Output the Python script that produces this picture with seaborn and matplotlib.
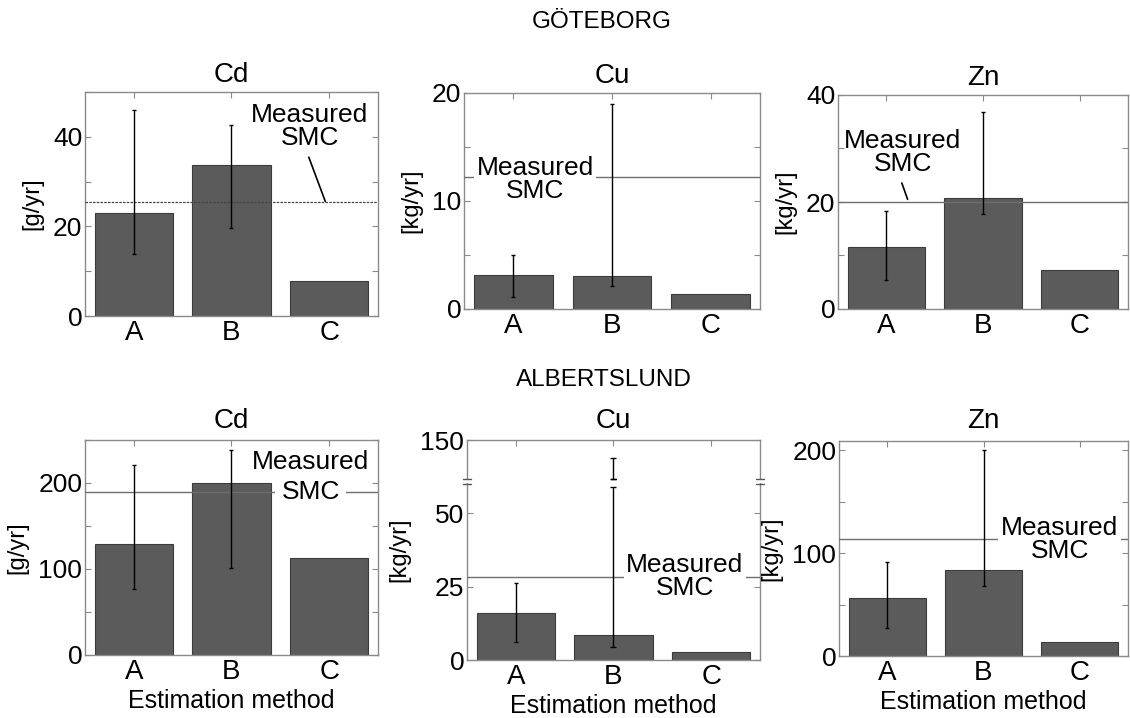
import numpy as np
import pandas as pd
import seaborn as sns
import matplotlib.pyplot as plt
import matplotlib.patches as mpatches

# Estimation methods (x categories)
methods = ["A", "B", "C"]

# GÖTEBORG: bar heights, error-bar low/high ends (methods A and B), measured SMC
gbg_cd = [23.0, 33.8, 7.8]
gbg_cd_lo = [13.8, 19.6]
gbg_cd_hi = [46.0, 42.6]
gbg_cd_smc = 25.4

gbg_cu = [3.15, 3.1, 1.4]
gbg_cu_lo = [1.1, 2.1]
gbg_cu_hi = [5.0, 19.0]
gbg_cu_smc = 12.25

gbg_zn = [11.5, 20.8, 7.2]
gbg_zn_lo = [5.4, 17.8]
gbg_zn_hi = [18.4, 36.9]
gbg_zn_smc = 20.0

# ALBERTSLUND
alb_cd = [129.0, 200.0, 112.6]
alb_cd_lo = [77.0, 101.0]
alb_cd_hi = [221.0, 238.0]
alb_cd_smc = 189.5

alb_cu = [15.9, 8.5, 2.8]
alb_cu_lo = [6.2, 4.3]
alb_cu_hi = [26.1, 112.0]
alb_cu_smc = 28.3

alb_zn = [56.6, 83.6, 13.7]
alb_zn_lo = [27.3, 68.0]
alb_zn_hi = [91.7, 200.0]
alb_zn_smc = 113.6

# broken y axis of Albertslund Cu: gap between these values
cu_break = (60, 70)

sns.set_theme(style="white")
plt.rcParams["font.family"] = ["Liberation Sans", "DejaVu Sans"]
plt.rcParams.update({"text.color": "black", "axes.labelcolor": "black",
                     "xtick.color": "black", "ytick.color": "black"})

W, H = 1130, 718
fig = plt.figure(figsize=(W / 100, H / 100), dpi=100)

def rect(l, t, r, b):
    return [l / W, 1 - b / H, (r - l) / W, (b - t) / H]

BAR = "#5b5b5b"
SPINE = "#8a8a8a"

panels = [
    # title, unit, values, lo, hi, smc, ylim, ticks, labels, box, text pos, arrow end, text style
    ("Cd", "[g/yr]", gbg_cd, gbg_cd_lo, gbg_cd_hi, gbg_cd_smc, 50,
     np.arange(0, 51, 10), [0, 20, 40], (85, 92, 378, 316), (1.80, 42.3), (1.96, 25.6), "arrow"),
    ("Cu", "[kg/yr]", gbg_cu, gbg_cu_lo, gbg_cu_hi, gbg_cu_smc, 20,
     np.arange(0, 21, 5), [0, 10, 20], (464, 93, 760, 309), (0.22, 12.0), None, "box"),
    ("Zn", "[kg/yr]", gbg_zn, gbg_zn_lo, gbg_zn_hi, gbg_zn_smc, 40,
     np.arange(0, 41, 10), [0, 20, 40], (838, 95, 1128, 309), (0.17, 29.3), (0.22, 20.5), "arrow"),
    ("Cd", "[g/yr]", alb_cd, alb_cd_lo, alb_cd_hi, alb_cd_smc, 250,
     np.arange(0, 251, 50), [0, 100, 200], (85, 440, 378, 655), (1.81, 207), None, "split"),
    ("Cu", "[kg/yr]", alb_cu, alb_cu_lo, alb_cu_hi, alb_cu_smc, 150,
     [0, 25, 50, 150], [0, 25, 50, 150], (467, 440, 760, 660), (1.73, 28.3), None, "box"),
    ("Zn", "[kg/yr]", alb_zn, alb_zn_lo, alb_zn_hi, alb_zn_smc, 209,
     np.arange(0, 201, 50), [0, 100, 200], (839, 441, 1128, 656), (1.79, 113.6), None, "box"),
]

k = 0.165
def fwd(y):
    y = np.asarray(y, dtype=float)
    return np.where(y <= cu_break[0], y, cu_break[0] + (y - cu_break[0]) * k)

def inv(y):
    y = np.asarray(y, dtype=float)
    return np.where(y <= cu_break[0], y, cu_break[0] + (y - cu_break[0]) / k)

TXT = 19

for i, (title, unit, vals, lo, hi, smc, ytop, ticks, labs, box, tpos, aend, style) in enumerate(panels):
    ax = fig.add_axes(rect(*box))
    df = pd.DataFrame({"method": methods, "value": vals})
    broken = (i == 4)
    if broken:
        ax.set_yscale("function", functions=(fwd, inv))
    sns.barplot(data=df, x="method", y="value", order=methods, color=BAR,
                saturation=1, width=0.8, edgecolor="#3c3c3c", linewidth=0.8,
                errorbar=None, ax=ax)
    ax.set_xlim(-0.5, 2.5)
    ax.set_ylim(0, ytop)

    # error bars for methods A and B
    for j in range(2):
        if broken and hi[j] > cu_break[1]:
            ax.errorbar(j, vals[j], yerr=[[vals[j] - lo[j]], [cu_break[0] - 1 - vals[j]]],
                        fmt="none", ecolor="black", elinewidth=1, capsize=2.5, zorder=4)
            ax.errorbar(j, cu_break[1], yerr=[[0], [hi[j] - cu_break[1]]],
                        fmt="none", ecolor="black", elinewidth=1, capsize=2.5, zorder=4)
            ax.plot([j - 0.025, j + 0.025], [cu_break[1], cu_break[1]], color="black", lw=1, zorder=4)
        else:
            ax.errorbar(j, vals[j], yerr=[[vals[j] - lo[j]], [hi[j] - vals[j]]],
                        fmt="none", ecolor="black", elinewidth=1, capsize=1.5, zorder=4)

    # measured SMC line
    if i == 0:
        ax.axhline(smc, color="#444444", lw=0.9, ls=(0, (2, 1)), zorder=3)
    else:
        ax.axhline(smc, color="#6e6e6e", lw=1.0, zorder=3)

    if style == "box":
        ax.text(tpos[0], tpos[1], "Measured\nSMC", ha="center", va="center",
                fontsize=TXT, linespacing=0.95, zorder=5,
                bbox=dict(boxstyle="square,pad=0.1", fc="white", ec="none"))
    elif style == "split":
        # "Measured" above the line, "SMC" sitting on it
        ax.text(tpos[0], smc, "SMC", ha="center", va="center", fontsize=TXT, zorder=5,
                bbox=dict(boxstyle="square,pad=0.25", fc="white", ec="none"))
        ax.annotate("Measured", xy=(tpos[0], smc), xytext=(0, 30), textcoords="offset pixels",
                    ha="center", va="center", fontsize=TXT, zorder=5)
    else:
        ax.annotate("Measured\nSMC", xy=aend, xytext=tpos, ha="center", va="center",
                    fontsize=TXT, linespacing=0.95, zorder=5,
                    arrowprops=dict(arrowstyle="-", color="black", lw=1.2,
                                    relpos=(0.47, 0.0), shrinkA=3, shrinkB=0))

    ax.set_yticks(ticks)
    ax.set_yticklabels([str(t) if t in labs else "" for t in ticks])
    ax.tick_params(axis="y", labelsize=19, direction="in", length=4, width=0.8,
                   color=SPINE, labelcolor="black", right=True, left=True, pad=2)
    ax.tick_params(axis="x", labelsize=20, direction="in", length=4, width=0.8,
                   color=SPINE, labelcolor="black", top=True, bottom=True, pad=3)
    for s in ax.spines.values():
        s.set_color(SPINE)
        s.set_linewidth(1.0)
        s.set_visible(True)

    ax.set_title(title, fontsize=20, pad=7 if i < 3 else 9, color="black")
    ax.set_ylabel(unit, fontsize=17, labelpad=7, color="black")
    if i >= 3:
        ax.set_xlabel("Estimation method", fontsize=18, labelpad=3, color="black")
    else:
        ax.set_xlabel("")

    if broken:
        # break marks on both y spines
        tr = ax.get_yaxis_transform()
        for xs in (0, 1):
            ax.add_patch(mpatches.Rectangle((xs - 0.01, cu_break[0] + 0.5), 0.02,
                                            cu_break[1] - cu_break[0] - 1,
                                            transform=tr, fc="white", ec="none",
                                            clip_on=False, zorder=6))
            for yb in cu_break:
                ax.plot([xs - 0.012, xs + 0.012], [yb, yb], transform=tr, color="#555555",
                        lw=1, clip_on=False, zorder=7)

fig.text(602 / W, 1 - 22 / H, "GÖTEBORG", ha="center", va="center", fontsize=17.5, color="black")
fig.text(604 / W, 1 - 380 / H, "ALBERTSLUND", ha="center", va="center", fontsize=17.5, color="black")

fig.savefig("out.png", dpi=100, facecolor="white")
